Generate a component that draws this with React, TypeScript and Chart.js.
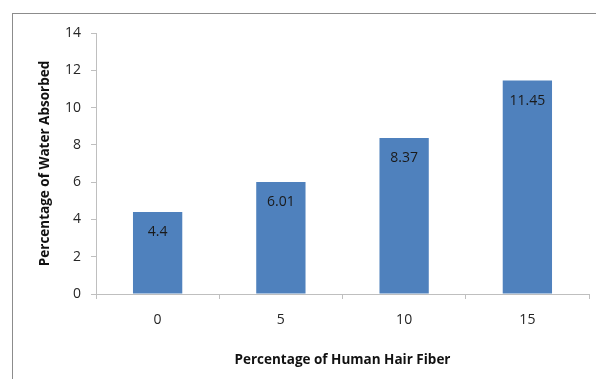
import React, { useEffect, useRef } from "react";
import { Chart, registerables } from "chart.js";

Chart.register(...registerables);

const fiberPercent = ["0", "5", "10", "15"];
const waterAbsorbed = [4.4, 6.01, 8.37, 11.45];
const yTicks = [0, 2, 4, 6, 8, 10, 12, 14];

const FONT = "'Open Sans', Lato, sans-serif";
const BAR_COLOR = "#4f81bd";
const AXIS_COLOR = "#bfbfbf";

// Frame around the whole chart plus white backdrop
const framePlugin = {
  id: "frame",
  beforeDraw(chart: any) {
    const { ctx, width, height } = chart;
    ctx.save();
    ctx.fillStyle = "#ffffff";
    ctx.fillRect(0, 0, width, height);
    ctx.strokeStyle = "#8c8c8c";
    ctx.lineWidth = 1;
    ctx.strokeRect(12.5, 13.5, width + 50, height + 50);
    ctx.restore();
  },
};

// Value labels written inside the top of each bar
const valueLabelPlugin = {
  id: "valueLabels",
  afterDatasetsDraw(chart: any) {
    const { ctx } = chart;
    const meta = chart.getDatasetMeta(0);
    ctx.save();
    ctx.font = `14px ${FONT}`;
    ctx.fillStyle = "#1a1a1a";
    ctx.textAlign = "center";
    ctx.textBaseline = "middle";
    meta.data.forEach((bar: any, i: number) => {
      const v = chart.data.datasets[0].data[i];
      ctx.fillText(String(v), bar.x, bar.y + 20);
    });
    ctx.restore();
  },
};

export default function App() {
  const canvasRef = useRef<HTMLCanvasElement | null>(null);

  useEffect(() => {
    const canvas = canvasRef.current;
    if (!canvas) return;
    const chart = new Chart(canvas, {
      type: "bar",
      data: {
        labels: fiberPercent,
        datasets: [
          {
            data: waterAbsorbed,
            backgroundColor: BAR_COLOR,
            barPercentage: 0.4,
            categoryPercentage: 1,
          },
        ],
      },
      plugins: [framePlugin, valueLabelPlugin],
      options: {
        animation: false,
        responsive: false,
        maintainAspectRatio: false,
        devicePixelRatio: 1,
        layout: { padding: { left: 0, top: 33, right: 7, bottom: 0 } },
        plugins: {
          legend: { display: false },
          tooltip: { enabled: false },
        },
        scales: {
          x: {
            grid: {
              display: true,
              drawOnChartArea: false,
              drawTicks: true,
              tickLength: 5,
              color: AXIS_COLOR,
              offset: true,
            },
            border: { display: true, color: AXIS_COLOR },
            ticks: {
              color: "#262626",
              font: { family: FONT, size: 14 },
              padding: 13,
            },
            title: {
              display: true,
              text: "Percentage of Human Hair Fiber",
              color: "#111111",
              font: { family: FONT, size: 13.5, weight: "bold" },
              padding: { top: 0, bottom: 11 },
            },
            afterFit(scale: any) {
              scale.height = 85;
            },
          },
          y: {
            min: 0,
            max: 14,
            afterBuildTicks(scale: any) {
              scale.ticks = yTicks.map((v) => ({ value: v }));
            },
            grid: {
              display: true,
              drawOnChartArea: false,
              drawTicks: true,
              tickLength: 5,
              color: AXIS_COLOR,
            },
            border: { display: true, color: AXIS_COLOR },
            ticks: {
              color: "#262626",
              font: { family: FONT, size: 14 },
              padding: 10,
            },
            title: {
              display: true,
              text: "Percentage of Water Absorbed",
              color: "#111111",
              font: { family: FONT, size: 13.5, weight: "bold" },
              padding: { top: 37, bottom: 0 },
            },
            afterFit(scale: any) {
              scale.width = 96;
            },
          },
        },
      },
    });
    return () => chart.destroy();
  }, []);

  return (
    <div style={{ position: "fixed", left: 0, top: 0, width: 596, height: 379 }}>
      <canvas ref={canvasRef} width={596} height={379} />
    </div>
  );
}
